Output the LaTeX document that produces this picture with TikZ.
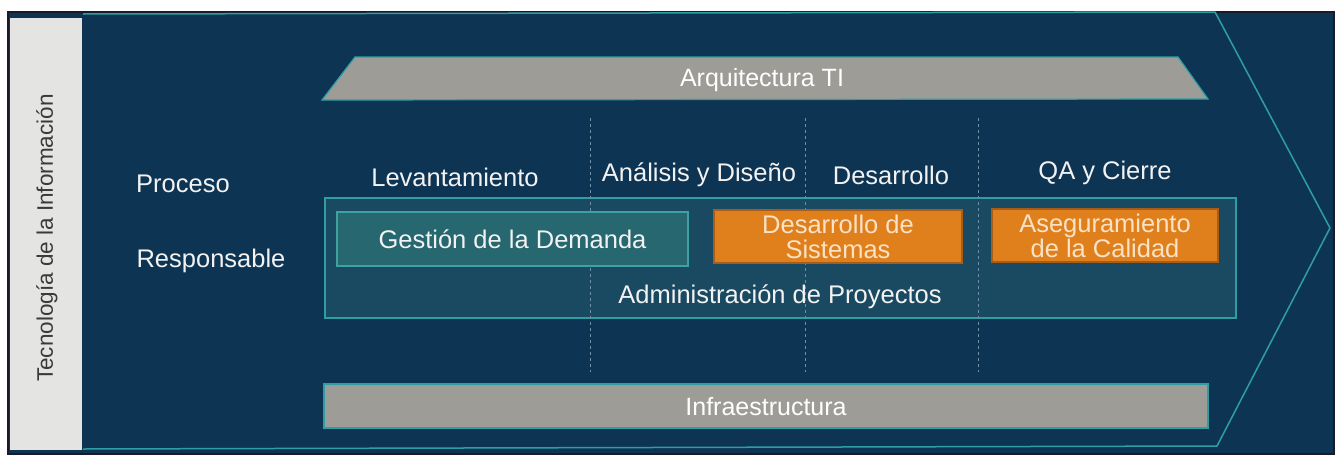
\documentclass[tikz,border=0pt]{standalone}
\usepackage{fontspec}
\setmainfont{Liberation Sans}
\definecolor{navy}{HTML}{0E3454}
\definecolor{framec}{HTML}{1A1A2A}
\definecolor{stripc}{HTML}{E4E4E2}
\definecolor{stript}{HTML}{3A3A3A}
\definecolor{tealc}{HTML}{2E9EA4}
\definecolor{barc}{HTML}{9E9C96}
\definecolor{bigc}{HTML}{1A4A62}
\definecolor{gestc}{HTML}{266770}
\definecolor{gestb}{HTML}{3DA3A2}
\definecolor{orc}{HTML}{E0801C}
\definecolor{orb}{HTML}{A85C1A}
\definecolor{ortext}{HTML}{FBE2C6}
\definecolor{labelc}{HTML}{F2F2F2}
\definecolor{dashc}{HTML}{6F8FA6}
\begin{document}
\begin{tikzpicture}[x=1pt,y=-1pt,
  lbl/.style={text=labelc, font=\fontsize{25.5}{29}\selectfont, inner sep=0pt},
  barlbl/.style={text=white, font=\fontsize{25}{29}\selectfont, inner sep=0pt},
  orbox/.style={fill=orc, draw=orb, line width=1.2pt, minimum width=248pt, minimum height=53pt, inner sep=0pt, align=center, text=ortext, font=\fontsize{25.5}{25}\selectfont},
  divline/.style={draw=dashc, dashed, line width=0.8pt}]
\useasboundingbox (0,0) rectangle (1341,458);
\fill[white] (0,0) rectangle (1341,458);
\fill[navy] (8,12) rectangle (1334,454);
\draw[framec, line width=1.5pt] (8,12) rectangle (1334,454);
% left strip
\fill[stripc] (10,18) rectangle (82,450);
\node[rotate=90, text=stript, font=\fontsize{22.5}{26}\selectfont, inner sep=0pt] (tec) at (47,238) {Tecnología de la Información};
% chevron outline
\draw[tealc, line width=1.5pt] (83,14) -- (1215,12) -- (1330,228) -- (1217,446) -- (83,449);
% Arquitectura TI trapezoid
\draw[fill=barc, draw=tealc, line width=1.2pt] (355,57) -- (1178,57) -- (1208,99) -- (322,100) -- cycle;
\node[barlbl] (arq) at (762,80) {Arquitectura TI};
% Infraestructura bar
\node[fill=barc, draw=tealc, line width=1.2pt, minimum width=884pt, minimum height=44pt, inner sep=0pt] (infbar) at (766,406) {};
\node[barlbl] (inf) at (766,407) {Infraestructura};
% big box
\node[fill=bigc, draw=tealc, line width=1.2pt, minimum width=911pt, minimum height=120pt, inner sep=0pt] (adm) at (780.5,258) {};
\node[lbl] (admtxt) at (780,297) {Administración de Proyectos};
% dashed dividers
\coordinate (d1t) at (590,118); \coordinate (d1b) at (590,372);
\coordinate (d2t) at (805,118); \coordinate (d2b) at (805,372);
\coordinate (d3t) at (978,118); \coordinate (d3b) at (978,372);
\draw[divline] (d1t) -- (d1b);
\draw[divline] (d2t) -- (d2b);
\draw[divline] (d3t) -- (d3b);
% inner boxes
\node[fill=gestc, draw=gestb, line width=1.2pt, minimum width=351pt, minimum height=54pt, inner sep=0pt, text=labelc, font=\fontsize{25.5}{29}\selectfont] (gest) at (512.5,239) {Gestión de la Demanda};
\node[orbox] (dev) at (838,236.5) {Desarrollo de\\Sistemas};
\node[orbox, minimum width=226pt] (qa) at (1105,235.5) {Aseguramiento\\de la Calidad};
% headers
\node[lbl] (proc) at (183,184) {Proceso};
\node[lbl] (resp) at (211,261) {Responsable};
\node[lbl] (lev) at (455,177) {Levantamiento};
\node[lbl] (ana) at (699,175) {Análisis y Diseño};
\node[lbl] (des) at (891,175) {Desarrollo};
\node[lbl] (qah) at (1105,173) {QA y Cierre};
\end{tikzpicture}
\end{document}
